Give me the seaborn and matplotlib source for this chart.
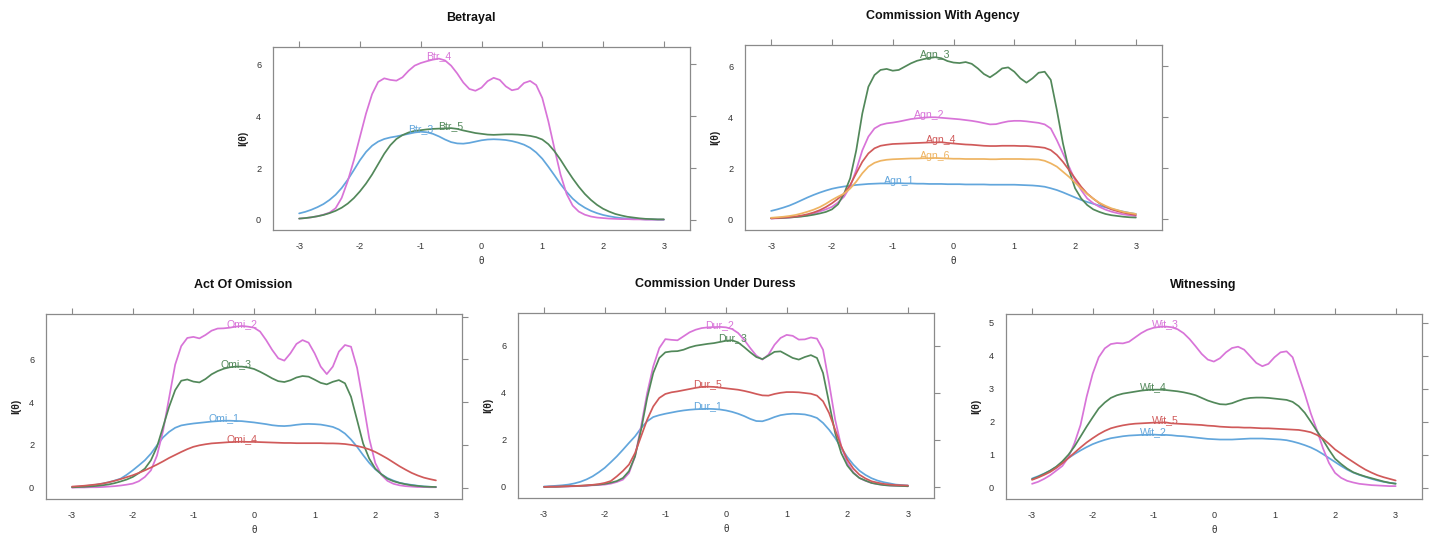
import numpy as np
import pandas as pd
import matplotlib
matplotlib.use("Agg")
import matplotlib.pyplot as plt
import seaborn as sns

# ---------------- data ----------------
theta = np.round(np.linspace(-3, 3, 61), 1)
theta_ticks = [-3, -2, -1, 0, 1, 2, 3]

# Betrayal
btr_3 = [0.25, 0.31, 0.39, 0.49, 0.61, 0.77, 0.97, 1.23, 1.55, 1.92,
         2.30, 2.62, 2.86, 3.02, 3.12, 3.18, 3.22, 3.27, 3.32, 3.37,
         3.40, 3.38, 3.32, 3.22, 3.10, 3.00, 2.95, 2.94, 2.97, 3.02,
         3.07, 3.10, 3.11, 3.10, 3.08, 3.04, 2.98, 2.90, 2.78, 2.60,
         2.36, 2.05, 1.72, 1.38, 1.08, 0.82, 0.62, 0.47, 0.35, 0.26,
         0.19, 0.14, 0.10, 0.07, 0.05, 0.04, 0.03, 0.02, 0.02, 0.01, 0.01]
btr_4 = [0.05, 0.07, 0.10, 0.14, 0.20, 0.28, 0.45, 0.85, 1.50, 2.30,
         3.20, 4.10, 4.85, 5.32, 5.46, 5.40, 5.37, 5.50, 5.75, 5.95,
         6.05, 6.12, 6.18, 6.22, 6.15, 5.95, 5.65, 5.30, 5.05, 4.98,
         5.10, 5.35, 5.48, 5.40, 5.15, 5.00, 5.05, 5.28, 5.36, 5.20,
         4.70, 3.80, 2.75, 1.75, 1.00, 0.55, 0.32, 0.20, 0.13, 0.09,
         0.07, 0.05, 0.04, 0.03, 0.03, 0.02, 0.02, 0.01, 0.01, 0.01, 0.01]
btr_5 = [0.05, 0.07, 0.10, 0.14, 0.19, 0.26, 0.35, 0.47, 0.63, 0.84,
         1.10, 1.40, 1.75, 2.15, 2.55, 2.88, 3.12, 3.27, 3.37, 3.43,
         3.46, 3.49, 3.51, 3.52, 3.53, 3.54, 3.51, 3.45, 3.40, 3.35,
         3.32, 3.29, 3.28, 3.29, 3.30, 3.30, 3.29, 3.27, 3.24, 3.19,
         3.10, 2.92, 2.65, 2.32, 1.95, 1.60, 1.28, 1.00, 0.77, 0.58,
         0.43, 0.32, 0.23, 0.17, 0.12, 0.09, 0.06, 0.04, 0.03, 0.02, 0.02]

# Commission With Agency
agn_1 = [0.32, 0.38, 0.45, 0.53, 0.63, 0.74, 0.85, 0.95, 1.04, 1.12,
         1.19, 1.24, 1.28, 1.31, 1.34, 1.36, 1.38, 1.39, 1.40, 1.40,
         1.40, 1.41, 1.40, 1.40, 1.39, 1.39, 1.38, 1.38, 1.38, 1.37,
         1.37, 1.37, 1.36, 1.36, 1.36, 1.36, 1.35, 1.35, 1.35, 1.35,
         1.35, 1.34, 1.33, 1.32, 1.30, 1.27, 1.21, 1.14, 1.05, 0.95,
         0.85, 0.75, 0.67, 0.60, 0.53, 0.46, 0.40, 0.34, 0.29, 0.24, 0.20]
agn_2 = [0.02, 0.03, 0.04, 0.06, 0.08, 0.11, 0.15, 0.22, 0.30, 0.38,
         0.48, 0.65, 0.88, 1.27, 1.93, 2.70, 3.24, 3.56, 3.70, 3.76,
         3.79, 3.83, 3.88, 3.93, 3.96, 3.98, 4.00, 4.00, 3.98, 3.96,
         3.94, 3.92, 3.89, 3.86, 3.82, 3.77, 3.72, 3.73, 3.79, 3.84,
         3.86, 3.86, 3.84, 3.81, 3.78, 3.72, 3.56, 3.10, 2.58, 2.06,
         1.53, 1.14, 0.81, 0.62, 0.48, 0.37, 0.29, 0.23, 0.18, 0.15, 0.12]
agn_3 = [0.03, 0.04, 0.05, 0.06, 0.08, 0.10, 0.13, 0.17, 0.22, 0.28,
         0.38, 0.58, 1.00, 1.60, 2.70, 4.15, 5.20, 5.66, 5.86, 5.90,
         5.83, 5.86, 5.99, 6.12, 6.22, 6.28, 6.33, 6.36, 6.32, 6.21,
         6.15, 6.13, 6.17, 6.10, 5.92, 5.70, 5.57, 5.73, 5.92, 5.96,
         5.79, 5.53, 5.36, 5.53, 5.75, 5.79, 5.47, 4.29, 2.98, 1.93,
         1.21, 0.81, 0.55, 0.38, 0.28, 0.20, 0.15, 0.12, 0.09, 0.07, 0.06]
agn_4 = [0.03, 0.04, 0.06, 0.08, 0.10, 0.14, 0.19, 0.26, 0.35, 0.47,
         0.62, 0.80, 1.00, 1.34, 1.80, 2.25, 2.58, 2.78, 2.88, 2.92,
         2.95, 2.96, 2.97, 2.98, 2.99, 3.00, 3.01, 3.01, 3.02, 2.99,
         2.97, 2.95, 2.93, 2.92, 2.90, 2.88, 2.87, 2.87, 2.88, 2.88,
         2.88, 2.87, 2.87, 2.85, 2.83, 2.80, 2.71, 2.52, 2.25, 1.93,
         1.60, 1.27, 1.00, 0.80, 0.62, 0.49, 0.38, 0.31, 0.25, 0.20, 0.16]
agn_6 = [0.05, 0.07, 0.09, 0.12, 0.16, 0.22, 0.29, 0.37, 0.47, 0.60,
         0.75, 0.88, 1.00, 1.20, 1.47, 1.80, 2.06, 2.21, 2.29, 2.33,
         2.35, 2.36, 2.37, 2.38, 2.38, 2.39, 2.39, 2.40, 2.39, 2.38,
         2.37, 2.37, 2.36, 2.36, 2.36, 2.36, 2.35, 2.35, 2.36, 2.36,
         2.36, 2.36, 2.35, 2.35, 2.34, 2.29, 2.19, 2.06, 1.86, 1.66,
         1.43, 1.20, 0.98, 0.80, 0.64, 0.52, 0.42, 0.35, 0.28, 0.24, 0.20]

# Act Of Omission
omi_1 = [0.03, 0.05, 0.07, 0.10, 0.14, 0.19, 0.25, 0.33, 0.42, 0.60,
         0.81, 1.04, 1.28, 1.59, 1.98, 2.35, 2.61, 2.80, 2.91, 2.96,
         3.00, 3.03, 3.06, 3.09, 3.11, 3.13, 3.13, 3.12, 3.11, 3.08,
         3.05, 3.01, 2.97, 2.92, 2.89, 2.88, 2.90, 2.94, 2.97, 2.98,
         2.97, 2.95, 2.90, 2.84, 2.72, 2.53, 2.25, 1.91, 1.52, 1.16,
         0.86, 0.63, 0.45, 0.33, 0.23, 0.17, 0.13, 0.09, 0.06, 0.04, 0.03]
omi_2 = [0.00, 0.01, 0.01, 0.02, 0.02, 0.03, 0.05, 0.07, 0.10, 0.14,
         0.19, 0.30, 0.50, 0.81, 1.50, 2.65, 4.20, 5.75, 6.62, 7.00,
         7.05, 6.98, 7.14, 7.34, 7.44, 7.45, 7.48, 7.53, 7.56, 7.53,
         7.48, 7.30, 6.90, 6.44, 6.05, 5.94, 6.28, 6.72, 6.90, 6.78,
         6.28, 5.66, 5.31, 5.66, 6.36, 6.67, 6.59, 5.60, 4.00, 2.30,
         1.15, 0.60, 0.32, 0.18, 0.11, 0.07, 0.05, 0.03, 0.03, 0.02, 0.02]
omi_3 = [0.02, 0.03, 0.04, 0.06, 0.08, 0.11, 0.15, 0.21, 0.29, 0.38,
         0.50, 0.68, 0.89, 1.28, 1.91, 2.84, 3.78, 4.56, 5.00, 5.06,
         4.96, 4.92, 5.08, 5.30, 5.45, 5.56, 5.63, 5.66, 5.66, 5.62,
         5.55, 5.42, 5.27, 5.11, 4.98, 4.94, 5.02, 5.15, 5.22, 5.19,
         5.05, 4.90, 4.83, 4.95, 5.03, 4.88, 4.25, 3.16, 2.06, 1.36,
         0.89, 0.63, 0.42, 0.30, 0.22, 0.16, 0.11, 0.08, 0.05, 0.04, 0.03]
omi_4 = [0.05, 0.07, 0.09, 0.12, 0.15, 0.19, 0.25, 0.32, 0.40, 0.49,
         0.58, 0.69, 0.81, 0.94, 1.08, 1.23, 1.39, 1.53, 1.67, 1.80,
         1.91, 1.98, 2.03, 2.07, 2.09, 2.11, 2.13, 2.14, 2.15, 2.14,
         2.14, 2.13, 2.12, 2.11, 2.10, 2.09, 2.09, 2.08, 2.08, 2.08,
         2.08, 2.08, 2.07, 2.07, 2.06, 2.04, 2.00, 1.95, 1.88, 1.79,
         1.67, 1.52, 1.36, 1.18, 1.00, 0.84, 0.69, 0.57, 0.47, 0.40, 0.34]

# Commission Under Duress
dur_1 = [0.02, 0.03, 0.05, 0.07, 0.10, 0.15, 0.22, 0.32, 0.45, 0.62,
         0.81, 1.05, 1.30, 1.58, 1.87, 2.15, 2.50, 2.79, 2.97, 3.05,
         3.11, 3.16, 3.21, 3.25, 3.28, 3.30, 3.31, 3.32, 3.31, 3.29,
         3.25, 3.19, 3.11, 3.01, 2.89, 2.80, 2.79, 2.87, 2.97, 3.05,
         3.09, 3.11, 3.10, 3.08, 3.02, 2.93, 2.72, 2.43, 2.08, 1.66,
         1.27, 0.95, 0.69, 0.51, 0.37, 0.27, 0.20, 0.15, 0.10, 0.08, 0.06]
dur_2 = [0.00, 0.01, 0.01, 0.02, 0.02, 0.03, 0.04, 0.05, 0.07, 0.08,
         0.10, 0.14, 0.21, 0.31, 0.59, 1.30, 2.58, 3.99, 5.12, 5.90,
         6.28, 6.25, 6.23, 6.40, 6.57, 6.68, 6.75, 6.78, 6.79, 6.80,
         6.78, 6.71, 6.54, 6.25, 5.90, 5.58, 5.41, 5.62, 6.04, 6.33,
         6.46, 6.42, 6.26, 6.27, 6.35, 6.30, 5.83, 4.41, 2.86, 1.73,
         1.02, 0.62, 0.38, 0.26, 0.17, 0.12, 0.08, 0.06, 0.05, 0.04, 0.03]
dur_3 = [0.00, 0.01, 0.01, 0.02, 0.03, 0.04, 0.05, 0.06, 0.08, 0.10,
         0.13, 0.18, 0.25, 0.38, 0.67, 1.30, 2.43, 3.78, 4.84, 5.48,
         5.72, 5.76, 5.77, 5.83, 5.93, 6.00, 6.04, 6.08, 6.11, 6.16,
         6.21, 6.23, 6.14, 5.94, 5.72, 5.52, 5.43, 5.58, 5.74, 5.76,
         5.62, 5.48, 5.41, 5.52, 5.60, 5.48, 4.84, 3.57, 2.29, 1.44,
         0.91, 0.59, 0.38, 0.27, 0.17, 0.12, 0.08, 0.06, 0.05, 0.04, 0.03]
dur_5 = [0.00, 0.01, 0.01, 0.02, 0.03, 0.04, 0.05, 0.07, 0.09, 0.12,
         0.17, 0.25, 0.45, 0.68, 0.95, 1.44, 2.15, 2.86, 3.42, 3.78,
         3.95, 4.02, 4.06, 4.11, 4.16, 4.21, 4.25, 4.26, 4.25, 4.22,
         4.19, 4.16, 4.13, 4.08, 4.02, 3.95, 3.89, 3.88, 3.95, 4.00,
         4.03, 4.03, 4.02, 3.99, 3.96, 3.88, 3.64, 3.14, 2.43, 1.73,
         1.16, 0.78, 0.52, 0.36, 0.24, 0.18, 0.13, 0.10, 0.08, 0.07, 0.06]

# Witnessing
wit_2 = [0.28, 0.35, 0.43, 0.52, 0.63, 0.77, 0.90, 1.02, 1.13, 1.23,
         1.32, 1.39, 1.45, 1.50, 1.53, 1.56, 1.58, 1.59, 1.60, 1.60,
         1.61, 1.60, 1.60, 1.59, 1.57, 1.56, 1.54, 1.52, 1.50, 1.48,
         1.47, 1.46, 1.46, 1.46, 1.47, 1.48, 1.49, 1.49, 1.49, 1.48,
         1.47, 1.46, 1.44, 1.40, 1.35, 1.29, 1.22, 1.13, 1.02, 0.90,
         0.78, 0.66, 0.55, 0.46, 0.39, 0.33, 0.27, 0.22, 0.18, 0.15, 0.13]
wit_3 = [0.12, 0.18, 0.27, 0.38, 0.52, 0.66, 0.92, 1.35, 1.90, 2.75,
         3.45, 3.95, 4.22, 4.35, 4.38, 4.37, 4.42, 4.55, 4.68, 4.78,
         4.84, 4.87, 4.88, 4.86, 4.80, 4.68, 4.50, 4.28, 4.05, 3.88,
         3.82, 3.92, 4.10, 4.23, 4.27, 4.18, 3.98, 3.78, 3.68, 3.75,
         3.95, 4.10, 4.13, 3.95, 3.40, 2.85, 2.25, 1.75, 1.20, 0.75,
         0.45, 0.30, 0.21, 0.16, 0.12, 0.10, 0.08, 0.07, 0.06, 0.05, 0.05]
wit_4 = [0.26, 0.33, 0.42, 0.52, 0.64, 0.80, 1.00, 1.25, 1.55, 1.85,
         2.13, 2.40, 2.58, 2.72, 2.80, 2.85, 2.88, 2.91, 2.94, 2.96,
         2.97, 2.97, 2.96, 2.94, 2.92, 2.89, 2.85, 2.80, 2.72, 2.64,
         2.58, 2.53, 2.52, 2.56, 2.63, 2.69, 2.72, 2.73, 2.73, 2.72,
         2.70, 2.68, 2.66, 2.60, 2.47, 2.27, 2.00, 1.72, 1.45, 1.15,
         0.88, 0.72, 0.58, 0.47, 0.40, 0.34, 0.29, 0.24, 0.19, 0.15, 0.12]
wit_5 = [0.24, 0.31, 0.39, 0.48, 0.60, 0.74, 0.90, 1.06, 1.22, 1.37,
         1.50, 1.62, 1.72, 1.80, 1.85, 1.89, 1.92, 1.94, 1.95, 1.96,
         1.97, 1.97, 1.98, 1.95, 1.94, 1.93, 1.92, 1.91, 1.90, 1.88,
         1.87, 1.85, 1.84, 1.83, 1.83, 1.82, 1.82, 1.81, 1.80, 1.80,
         1.79, 1.78, 1.77, 1.76, 1.75, 1.72, 1.68, 1.60, 1.49, 1.33,
         1.16, 1.03, 0.90, 0.78, 0.66, 0.55, 0.46, 0.38, 0.32, 0.27, 0.22]

titles = ["Betrayal", "Commission With Agency", "Act Of Omission",
          "Commission Under Duress", "Witnessing"]
items = [["Btr_3", "Btr_4", "Btr_5"],
         ["Agn_1", "Agn_2", "Agn_3", "Agn_4", "Agn_6"],
         ["Omi_1", "Omi_2", "Omi_3", "Omi_4"],
         ["Dur_1", "Dur_2", "Dur_3", "Dur_5"],
         ["Wit_2", "Wit_3", "Wit_4", "Wit_5"]]
series = [[btr_3, btr_4, btr_5],
          [agn_1, agn_2, agn_3, agn_4, agn_6],
          [omi_1, omi_2, omi_3, omi_4],
          [dur_1, dur_2, dur_3, dur_5],
          [wit_2, wit_3, wit_4, wit_5]]
yticks = [[0, 2, 4, 6], [0, 2, 4, 6], [0, 2, 4, 6, 8], [0, 2, 4, 6], [0, 1, 2, 3, 4, 5]]

# ---------------- layout / style ----------------
W, H = 1436, 536
boxes_px = [(273, 46.7, 690, 230), (745, 45, 1162, 230),
            (46, 314, 462, 499), (518, 313, 934, 498), (1006, 314, 1421.7, 499)]
ylims = [(-0.39, 6.68), (-0.43, 6.84), (-0.53, 8.12), (-0.47, 7.39), (-0.34, 5.26)]
line_colors = ["#62a6dc", "#d874d8", "#52885a", "#d05a5a", "#eeb462"]
frame_col = "#8a8a8a"

sns.set_style("white")
plt.rcParams["font.family"] = ["Liberation Sans", "DejaVu Sans"]
plt.rcParams["axes.unicode_minus"] = False

fig = plt.figure(figsize=(W / 100, H / 100), dpi=100)

for k in range(5):
    x0, y0, x1, y1 = boxes_px[k]
    ax = fig.add_axes([x0 / W, 1 - y1 / H, (x1 - x0) / W, (y1 - y0) / H])
    names = items[k]
    vals = series[k]
    for v in vals:
        assert len(v) == len(theta)
    df = pd.DataFrame({
        "theta": np.tile(theta, len(names)),
        "info": np.concatenate([np.asarray(v, float) for v in vals]),
        "item": np.repeat(names, len(theta)),
    })
    pal = dict(zip(names, line_colors[:len(names)]))
    sns.lineplot(data=df, x="theta", y="info", hue="item", palette=pal,
                 estimator=None, sort=False, legend=False, lw=1.25, ax=ax)
    for name, v in zip(names, vals):
        v = np.asarray(v, float)
        i = int(np.argmax(v))
        ax.text(theta[i], v[i] - 0.015 * (ylims[k][1] - ylims[k][0]), name,
                color=pal[name], ha="center", va="bottom", fontsize=7.6)

    ax.set_xlim(-3.43, 3.43)
    ax.set_ylim(*ylims[k])
    ax.set_xticks(theta_ticks)
    ax.set_xticklabels([str(t) for t in theta_ticks])
    yt = yticks[k]
    ax.set_yticks(yt)
    ax.set_yticklabels([str(t) if t < ylims[k][1] - 0.2 else "" for t in yt])
    ax.tick_params(axis="both", which="both", direction="out", length=4.5,
                   width=0.8, color=frame_col, labelsize=6.6, labelcolor="#333333",
                   top=True, right=True, labeltop=False, labelright=False, pad=4)
    for s in ax.spines.values():
        s.set_visible(True)
        s.set_color(frame_col)
        s.set_linewidth(0.9)
    ax.set_xlabel("θ", fontsize=7, color="#333333")
    ax.set_ylabel("I(θ)", fontsize=7.5, color="#222222", fontweight="bold")
    bw, bh = x1 - x0, y1 - y0
    ax.xaxis.set_label_coords(0.5, -26 / bh)
    ax.yaxis.set_label_coords(-25 / bw, 0.5)
    ax.grid(False)

    cx = (x0 + x1) / 2 - 11
    fig.text(cx / W, 1 - (y0 - 29) / H, titles[k], ha="center", va="center",
             fontsize=9, fontweight="bold", color="#111111")

fig.savefig("out.png", dpi=100, facecolor="white")
